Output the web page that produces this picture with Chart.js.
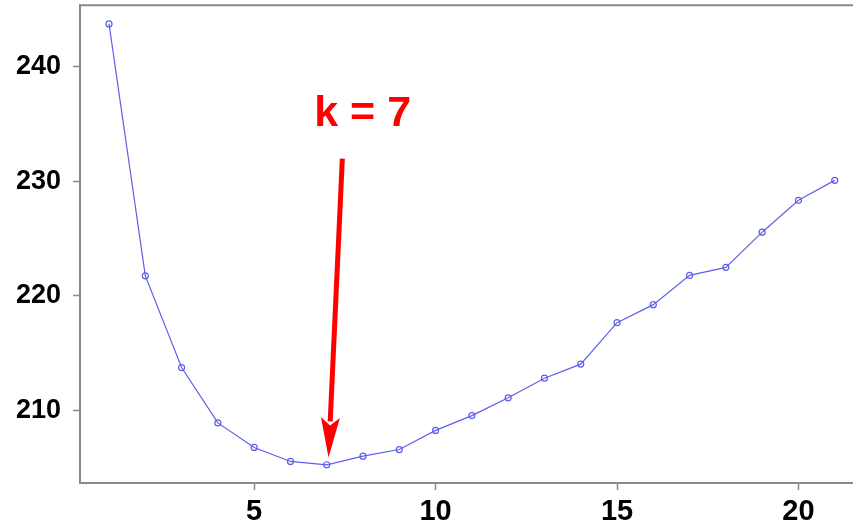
<!DOCTYPE html>
<html><head><meta charset="utf-8">
<script src="https://cdn.jsdelivr.net/npm/chart.js@4"></script>
<style>html,body{margin:0;padding:0;background:#fff;overflow:hidden}#wrap{width:853px;height:528px;position:relative}</style>
</head><body><div id="wrap"><canvas id="c" width="853" height="528"></canvas></div>
<script>
const kValues = [1,2,3,4,5,6,7,8,9,10,11,12,13,14,15,16,17,18,19,20,21];
const scores = [243.71,221.73,213.73,208.9,206.76,205.54,205.25,206.0,206.58,208.25,209.54,211.09,212.8,214.03,217.65,219.22,221.77,222.47,225.54,228.32,230.06];
const xTickValues = [5,10,15,20];
const yTickValues = [210,220,230,240];
const annotationText = 'k = 7';
const textAnchor = [7.99, 234.83];
const arrowStart = [7.43, 231.95];
const arrowTip = [7.05, 205.89];

const axisGray = '#8a8a8a';
const lineBlue = 'rgb(95,95,235)';
const red = '#ff0000';

const frameAndArrow = {
  id: 'frameAndArrow',
  afterDraw(chart) {
    const {ctx, chartArea, scales} = chart;
    ctx.save();
    ctx.strokeStyle = axisGray;
    ctx.lineWidth = 2;
    ctx.beginPath();
    ctx.moveTo(chartArea.left - 1, chartArea.top);
    ctx.lineTo(chart.width, chartArea.top);
    ctx.stroke();
    ctx.beginPath();
    ctx.moveTo(chartArea.right, chartArea.bottom);
    ctx.lineTo(chart.width, chartArea.bottom);
    ctx.stroke();

    const xs = scales.x, ys = scales.y;
    const sx = xs.getPixelForValue(arrowStart[0]), sy = ys.getPixelForValue(arrowStart[1]);
    const tx = xs.getPixelForValue(arrowTip[0]), ty = ys.getPixelForValue(arrowTip[1]);
    const ang = Math.atan2(ty - sy, tx - sx);
    const headLen = 40, headHalf = 9.5;
    const bx = tx - headLen * Math.cos(ang), by = ty - headLen * Math.sin(ang);
    ctx.strokeStyle = red;
    ctx.fillStyle = red;
    ctx.lineWidth = 5;
    ctx.lineCap = 'butt';
    ctx.beginPath();
    ctx.moveTo(sx, sy);
    ctx.lineTo(bx + 4 * Math.cos(ang), by + 4 * Math.sin(ang));
    ctx.stroke();
    const nx = -Math.sin(ang), ny = Math.cos(ang);
    ctx.beginPath();
    ctx.moveTo(tx, ty);
    ctx.lineTo(bx + nx * headHalf, by + ny * headHalf);
    ctx.lineTo(bx + 8 * Math.cos(ang), by + 8 * Math.sin(ang));
    ctx.lineTo(bx - nx * headHalf, by - ny * headHalf);
    ctx.closePath();
    ctx.fill();

    ctx.font = 'bold 43px "Liberation Sans", Arial, sans-serif';
    ctx.textAlign = 'center';
    ctx.textBaseline = 'alphabetic';
    ctx.fillText(annotationText, xs.getPixelForValue(textAnchor[0]), ys.getPixelForValue(textAnchor[1]));
    ctx.restore();
  }
};

function noPad(s) { s.paddingTop = 0; s.paddingBottom = 0; s.paddingLeft = 0; s.paddingRight = 0; }

new Chart(document.getElementById('c'), {
  type: 'line',
  data: {
    datasets: [{
      data: kValues.map((k, i) => ({x: k, y: scores[i]})),
      borderColor: lineBlue,
      borderWidth: 1.2,
      pointRadius: 3,
      pointBorderWidth: 1.2,
      pointBorderColor: lineBlue,
      pointBackgroundColor: 'rgba(0,0,0,0)',
      pointStyle: 'circle',
      tension: 0,
      fill: false
    }]
  },
  options: {
    responsive: false,
    animation: false,
    devicePixelRatio: 1,
    layout: {padding: {top: 5, left: 0, right: 0, bottom: 0}},
    plugins: {legend: {display: false}, tooltip: {enabled: false}},
    scales: {
      x: {
        type: 'linear',
        min: 0.2,
        max: 21.36,
        afterBuildTicks(s) { s.ticks = xTickValues.map(v => ({value: v})); },
        afterFit(s) { s.height = 45; noPad(s); },
        border: {display: true, color: axisGray, width: 2},
        grid: {display: true, drawOnChartArea: false, drawTicks: true, tickLength: 7, tickColor: axisGray, tickWidth: 1.5},
        ticks: {color: '#000', padding: 5, maxRotation: 0, font: {family: '"Liberation Sans", Arial, sans-serif', weight: 'bold', size: 29}}
      },
      y: {
        type: 'linear',
        min: 203.66,
        max: 245.34,
        afterBuildTicks(s) { s.ticks = yTickValues.map(v => ({value: v})); },
        afterFit(s) { s.width = 80; noPad(s); },
        border: {display: true, color: axisGray, width: 2},
        grid: {display: true, drawOnChartArea: false, drawTicks: true, tickLength: 7, tickColor: axisGray, tickWidth: 1.5},
        ticks: {color: '#000', padding: 12, font: {family: '"Liberation Sans", Arial, sans-serif', weight: 'bold', size: 27}}
      }
    }
  },
  plugins: [frameAndArrow]
});
</script></body></html>
